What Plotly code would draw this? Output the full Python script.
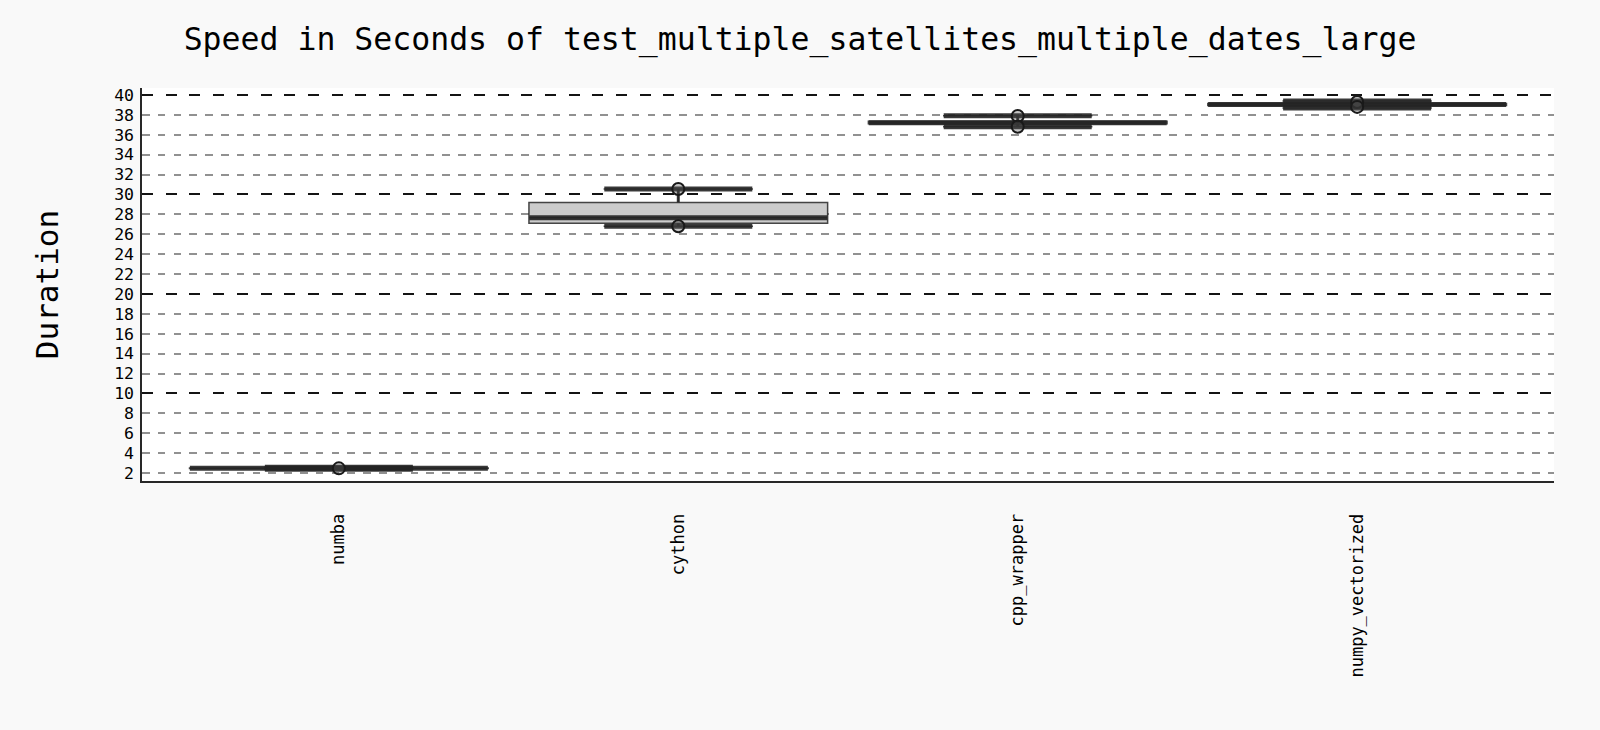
import plotly.graph_objects as go

categories = ["numba", "cython", "cpp_wrapper", "numpy_vectorized"]
q1 = [2.45, 27.10, 37.10, 38.95]
median = [2.47, 27.65, 37.20, 39.05]
q3 = [2.50, 29.20, 37.35, 39.15]
lower_fence = [2.38, 26.80, 36.80, 38.70]
upper_fence = [2.58, 30.55, 37.90, 39.40]

point_cat = ["numba", "cython", "cython", "cpp_wrapper", "cpp_wrapper",
             "numpy_vectorized", "numpy_vectorized"]
point_val = [2.47, 30.55, 26.80, 37.88, 36.80, 39.30, 38.80]

major_ticks = [10, 20, 30, 40]
minor_ticks = [2, 4, 6, 8, 12, 14, 16, 18, 22, 24, 26, 28, 32, 34, 36, 38]
label_ticks = [2, 4, 6, 8, 10, 12, 14, 16, 18, 20, 22, 24, 26, 28, 30,
               32, 34, 36, 38, 40]

MONO = "DejaVu Sans Mono"
DARK = "rgba(35,35,35,0.9)"
YR = [1.2, 40.7]
LINE_EW = 1.4  # plotly draws line-ew markers 1.4x their size

fig = go.Figure()

fig.add_trace(go.Box(
    x=categories, q1=q1, median=median, q3=q3,
    lowerfence=lower_fence, upperfence=upper_fence,
    width=0.88, whiskerwidth=0.5,
    fillcolor="rgb(204,204,204)",
    line=dict(color="rgba(40,40,40,0.85)", width=1.5),
    showlegend=False, hoverinfo="skip",
))

# whisker stems
fig.add_trace(go.Scatter(
    x=categories, y=q3, mode="markers", marker=dict(size=0.1, opacity=0),
    error_y=dict(type="data", symmetric=False,
                 array=[u - q for u, q in zip(upper_fence, q3)],
                 arrayminus=[0] * len(q3),
                 width=0, thickness=3, color=DARK),
    showlegend=False, hoverinfo="skip",
))
fig.add_trace(go.Scatter(
    x=categories, y=q1, mode="markers", marker=dict(size=0.1, opacity=0),
    error_y=dict(type="data", symmetric=False,
                 array=[0] * len(q1),
                 arrayminus=[q - l for q, l in zip(q1, lower_fence)],
                 width=0, thickness=3, color=DARK),
    showlegend=False, hoverinfo="skip",
))

# thick median line
fig.add_trace(go.Scatter(
    x=categories, y=median, mode="markers",
    marker=dict(symbol="line-ew", size=298 / LINE_EW,
                line=dict(width=5, color=DARK)),
    showlegend=False, hoverinfo="skip",
))
# thick caps
fig.add_trace(go.Scatter(
    x=categories + categories, y=upper_fence + lower_fence, mode="markers",
    marker=dict(symbol="line-ew", size=148 / LINE_EW,
                line=dict(width=5, color=DARK)),
    showlegend=False, hoverinfo="skip",
))
# points
fig.add_trace(go.Scatter(
    x=point_cat, y=point_val, mode="markers",
    marker=dict(symbol="circle", size=12, color="rgba(90,90,90,0.35)",
                line=dict(width=2, color="rgb(25,25,25)")),
    showlegend=False, hoverinfo="skip",
))
# label axis helper
fig.add_trace(go.Scatter(x=[categories[0]], y=[None], yaxis="y2",
                         showlegend=False, hoverinfo="skip"))

fig.update_layout(
    width=1600, height=730,
    paper_bgcolor="rgb(249,249,249)",
    plot_bgcolor="white",
    margin=dict(l=142, r=46, t=88, b=249),
    font=dict(family=MONO, color="black"),
    title=dict(text="Speed in Seconds of test_multiple_satellites_multiple_dates_large",
               x=0.5, xanchor="center", y=0.947, yanchor="middle",
               font=dict(family=MONO, size=31.5, color="black")),
    xaxis=dict(
        type="category", range=[-0.58, 3.58],
        showline=True, linecolor="rgb(40,40,40)", linewidth=2,
        showgrid=False, zeroline=False, ticks="",
        tickangle=-90, ticklabelstandoff=24,
        tickfont=dict(family=MONO, size=17, color="black"),
    ),
    yaxis=dict(
        range=YR, tickmode="array", tickvals=major_ticks,
        showticklabels=False, ticks="",
        showline=True, linecolor="rgb(40,40,40)", linewidth=2,
        showgrid=True, gridcolor="rgb(20,20,20)", gridwidth=1.6,
        griddash="11px,12.7px", zeroline=False,
        minor=dict(tickmode="array", tickvals=minor_ticks, showgrid=True,
                   gridcolor="rgb(145,145,145)", gridwidth=1.5,
                   griddash="7.5px,8.3px", ticks=""),
        title=dict(text="Duration", standoff=72,
                   font=dict(family=MONO, size=31, color="black")),
    ),
    yaxis2=dict(
        overlaying="y", matches="y", range=YR, side="left",
        tickmode="array", tickvals=label_ticks, ticks="",
        ticklabelstandoff=7,
        showgrid=False, zeroline=False, showline=False,
        tickfont=dict(family=MONO, size=16.5, color="black"),
    ),
)

fig.write_html("out.html", config={"displayModeBar": False},
               post_script="document.body.style.margin='0';")
